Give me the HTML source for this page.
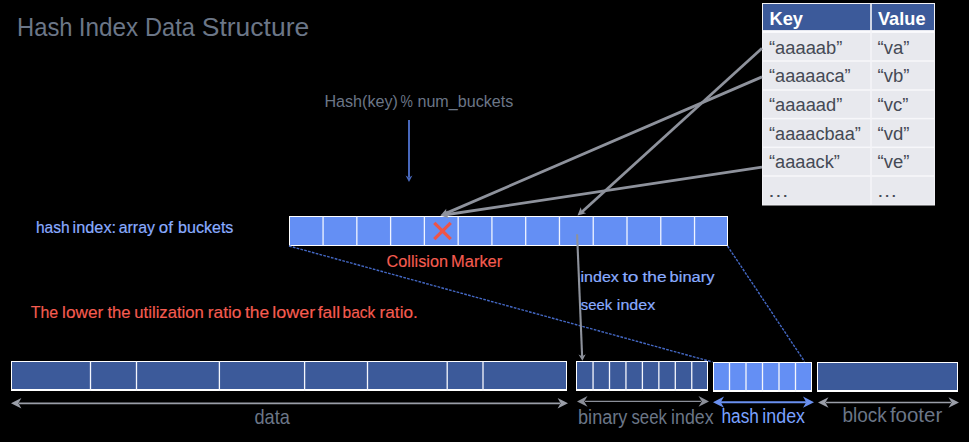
<!DOCTYPE html>
<html><head><meta charset="utf-8"><style>
html,body{margin:0;padding:0;background:#000;width:969px;height:442px;overflow:hidden}
svg{display:block}
text{font-family:"Liberation Sans", sans-serif}
</style></head><body>
<svg width="969" height="442" viewBox="0 0 969 442">
<rect width="969" height="442" fill="#000"/>
<text x="17.05" y="35.8" font-size="26.3" fill="#6b7687" font-weight="normal" textLength="55.49" lengthAdjust="spacingAndGlyphs">Hash</text>
<text x="78.76" y="35.8" font-size="26.3" fill="#6b7687" font-weight="normal" textLength="59.51" lengthAdjust="spacingAndGlyphs">Index</text>
<text x="145.06" y="35.8" font-size="26.3" fill="#6b7687" font-weight="normal" textLength="49.94" lengthAdjust="spacingAndGlyphs">Data</text>
<text x="201.8" y="35.8" font-size="26.3" fill="#6b7687" font-weight="normal" textLength="107.38" lengthAdjust="spacingAndGlyphs">Structure</text>
<text x="324.38" y="106.5" font-size="16.3" fill="#6b7687" font-weight="normal" textLength="73.52" lengthAdjust="spacingAndGlyphs">Hash(key)</text>
<text x="400.5" y="106.5" font-size="16.3" fill="#6b7687" font-weight="normal" textLength="12.39" lengthAdjust="spacingAndGlyphs">%</text>
<text x="417.43" y="106.5" font-size="16.3" fill="#6b7687" font-weight="normal" textLength="95.85" lengthAdjust="spacingAndGlyphs">num_buckets</text>
<line x1="409" y1="120" x2="409" y2="177" stroke="#4868bc" stroke-width="2.0" />
<path d="M409.00,182.00 L405.60,175.50 L409.00,177.50 L412.40,175.50 Z" fill="#4868bc"/>
<rect x="289.00" y="216.00" width="439.00" height="30.00" fill="#ffffff"/>
<rect x="290.00" y="217.00" width="437.00" height="28.00" fill="#648ff4"/>
<rect x="322.42" y="216.00" width="1.30" height="30.00" fill="#f0f4ff"/>
<rect x="356.19" y="216.00" width="1.30" height="30.00" fill="#f0f4ff"/>
<rect x="389.96" y="216.00" width="1.30" height="30.00" fill="#f0f4ff"/>
<rect x="423.73" y="216.00" width="1.30" height="30.00" fill="#f0f4ff"/>
<rect x="457.50" y="216.00" width="1.30" height="30.00" fill="#f0f4ff"/>
<rect x="491.27" y="216.00" width="1.30" height="30.00" fill="#f0f4ff"/>
<rect x="525.04" y="216.00" width="1.30" height="30.00" fill="#f0f4ff"/>
<rect x="558.81" y="216.00" width="1.30" height="30.00" fill="#f0f4ff"/>
<rect x="592.58" y="216.00" width="1.30" height="30.00" fill="#f0f4ff"/>
<rect x="626.35" y="216.00" width="1.30" height="30.00" fill="#f0f4ff"/>
<rect x="660.12" y="216.00" width="1.30" height="30.00" fill="#f0f4ff"/>
<rect x="693.89" y="216.00" width="1.30" height="30.00" fill="#f0f4ff"/>
<line x1="434.3" y1="222.8" x2="450.7" y2="239.2" stroke="#ee5548" stroke-width="3.3" />
<line x1="450.7" y1="222.8" x2="434.3" y2="239.2" stroke="#ee5548" stroke-width="3.3" />
<text x="35.92" y="232.6" font-size="16.6" fill="#8aacff" font-weight="normal" textLength="33.69" lengthAdjust="spacingAndGlyphs" stroke="#8aacff" stroke-width="0.2">hash</text>
<text x="72.61" y="232.6" font-size="16.6" fill="#8aacff" font-weight="normal" textLength="43.48" lengthAdjust="spacingAndGlyphs" stroke="#8aacff" stroke-width="0.2">index:</text>
<text x="118.72" y="232.6" font-size="16.6" fill="#8aacff" font-weight="normal" textLength="36.21" lengthAdjust="spacingAndGlyphs" stroke="#8aacff" stroke-width="0.2">array</text>
<text x="158.89" y="232.6" font-size="16.6" fill="#8aacff" font-weight="normal" textLength="14.08" lengthAdjust="spacingAndGlyphs" stroke="#8aacff" stroke-width="0.2">of</text>
<text x="178.07" y="232.6" font-size="16.6" fill="#8aacff" font-weight="normal" textLength="55.31" lengthAdjust="spacingAndGlyphs" stroke="#8aacff" stroke-width="0.2">buckets</text>
<text x="386.57" y="266.5" font-size="17.2" fill="#f55c50" font-weight="normal" textLength="61.48" lengthAdjust="spacingAndGlyphs" stroke="#f55c50" stroke-width="0.15">Collision</text>
<text x="451.05" y="266.5" font-size="17.2" fill="#f55c50" font-weight="normal" textLength="51.22" lengthAdjust="spacingAndGlyphs" stroke="#f55c50" stroke-width="0.15">Marker</text>
<text x="580.53" y="282.3" font-size="15.5" fill="#8aacff" font-weight="normal" textLength="38.35" lengthAdjust="spacingAndGlyphs" stroke="#8aacff" stroke-width="0.2">index</text>
<text x="622.51" y="282.3" font-size="15.5" fill="#8aacff" font-weight="normal" textLength="16.0" lengthAdjust="spacingAndGlyphs" stroke="#8aacff" stroke-width="0.2">to</text>
<text x="642.44" y="282.3" font-size="15.5" fill="#8aacff" font-weight="normal" textLength="24.13" lengthAdjust="spacingAndGlyphs" stroke="#8aacff" stroke-width="0.2">the</text>
<text x="669.64" y="282.3" font-size="15.5" fill="#8aacff" font-weight="normal" textLength="44.89" lengthAdjust="spacingAndGlyphs" stroke="#8aacff" stroke-width="0.2">binary</text>
<text x="580.79" y="309.5" font-size="15.5" fill="#8aacff" font-weight="normal" textLength="31.29" lengthAdjust="spacingAndGlyphs" stroke="#8aacff" stroke-width="0.2">seek</text>
<text x="616.83" y="309.5" font-size="15.5" fill="#8aacff" font-weight="normal" textLength="38.35" lengthAdjust="spacingAndGlyphs" stroke="#8aacff" stroke-width="0.2">index</text>
<text x="30.74" y="317.9" font-size="17" fill="#f55c50" font-weight="normal" textLength="27.47" lengthAdjust="spacingAndGlyphs" stroke="#f55c50" stroke-width="0.15">The</text>
<text x="62.14" y="317.9" font-size="17" fill="#f55c50" font-weight="normal" textLength="41.15" lengthAdjust="spacingAndGlyphs" stroke="#f55c50" stroke-width="0.15">lower</text>
<text x="107.45" y="317.9" font-size="17" fill="#f55c50" font-weight="normal" textLength="23.09" lengthAdjust="spacingAndGlyphs" stroke="#f55c50" stroke-width="0.15">the</text>
<text x="134.32" y="317.9" font-size="17" fill="#f55c50" font-weight="normal" textLength="69.57" lengthAdjust="spacingAndGlyphs" stroke="#f55c50" stroke-width="0.15">utilization</text>
<text x="207.75" y="317.9" font-size="17" fill="#f55c50" font-weight="normal" textLength="33.68" lengthAdjust="spacingAndGlyphs" stroke="#f55c50" stroke-width="0.15">ratio</text>
<text x="245.04" y="317.9" font-size="17" fill="#f55c50" font-weight="normal" textLength="24.24" lengthAdjust="spacingAndGlyphs" stroke="#f55c50" stroke-width="0.15">the</text>
<text x="272.19" y="317.9" font-size="17" fill="#f55c50" font-weight="normal" textLength="43.01" lengthAdjust="spacingAndGlyphs" stroke="#f55c50" stroke-width="0.15">lower</text>
<text x="317.75" y="317.9" font-size="17" fill="#f55c50" font-weight="normal" textLength="22.31" lengthAdjust="spacingAndGlyphs" stroke="#f55c50" stroke-width="0.15">fall</text>
<text x="342.5" y="317.9" font-size="17" fill="#f55c50" font-weight="normal" textLength="32.78" lengthAdjust="spacingAndGlyphs" stroke="#f55c50" stroke-width="0.15">back</text>
<text x="379.56" y="317.9" font-size="17" fill="#f55c50" font-weight="normal" textLength="38.32" lengthAdjust="spacingAndGlyphs" stroke="#f55c50" stroke-width="0.15">ratio.</text>
<line x1="289" y1="246" x2="712.5" y2="362" stroke="#4468c4" stroke-width="1.4" stroke-dasharray="2.7 1.25"/>
<line x1="727.5" y1="246" x2="804.5" y2="361.5" stroke="#4468c4" stroke-width="1.4" stroke-dasharray="2.7 1.25"/>
<rect x="11.00" y="361.00" width="556.00" height="30.00" fill="#ffffff" />
<rect x="12.00" y="362.00" width="554.00" height="27.00" fill="#3c5a9a" />
<rect x="89.85" y="361.00" width="1.30" height="30.00" fill="#f4f6fc" />
<rect x="135.85" y="361.00" width="1.30" height="30.00" fill="#f4f6fc" />
<rect x="218.75" y="361.00" width="1.30" height="30.00" fill="#f4f6fc" />
<rect x="303.95" y="361.00" width="1.30" height="30.00" fill="#f4f6fc" />
<rect x="366.85" y="361.00" width="1.30" height="30.00" fill="#f4f6fc" />
<rect x="446.55" y="361.00" width="1.30" height="30.00" fill="#f4f6fc" />
<rect x="482.35" y="361.00" width="1.30" height="30.00" fill="#f4f6fc" />
<rect x="576.00" y="361.00" width="132.00" height="30.00" fill="#ffffff" />
<rect x="577.00" y="362.00" width="130.00" height="27.00" fill="#3c5a9a" />
<rect x="592.40" y="361.00" width="1.30" height="30.00" fill="#f4f6fc" />
<rect x="608.85" y="361.00" width="1.30" height="30.00" fill="#f4f6fc" />
<rect x="625.30" y="361.00" width="1.30" height="30.00" fill="#f4f6fc" />
<rect x="641.75" y="361.00" width="1.30" height="30.00" fill="#f4f6fc" />
<rect x="658.20" y="361.00" width="1.30" height="30.00" fill="#f4f6fc" />
<rect x="674.65" y="361.00" width="1.30" height="30.00" fill="#f4f6fc" />
<rect x="691.10" y="361.00" width="1.30" height="30.00" fill="#f4f6fc" />
<rect x="713.00" y="362.00" width="99.00" height="30.00" fill="#ffffff" />
<rect x="714.00" y="363.00" width="97.00" height="27.00" fill="#648ff4" />
<rect x="728.85" y="362.00" width="1.30" height="30.00" fill="#f4f6fc" />
<rect x="745.35" y="362.00" width="1.30" height="30.00" fill="#f4f6fc" />
<rect x="761.85" y="362.00" width="1.30" height="30.00" fill="#f4f6fc" />
<rect x="778.35" y="362.00" width="1.30" height="30.00" fill="#f4f6fc" />
<rect x="794.85" y="362.00" width="1.30" height="30.00" fill="#f4f6fc" />
<rect x="817.00" y="362.00" width="141.00" height="30.00" fill="#ffffff" />
<rect x="818.00" y="363.00" width="139.00" height="27.00" fill="#3c5a9a" />
<line x1="19" y1="403.3" x2="560" y2="403.3" stroke="#9a9ea8" stroke-width="1.7" />
<path d="M11.00,403.30 L21.40,398.10 L18.40,403.30 L21.40,408.50 Z" fill="#9a9ea8"/>
<path d="M568.00,403.30 L557.60,408.50 L560.60,403.30 L557.60,398.10 Z" fill="#9a9ea8"/>
<line x1="585" y1="401.4" x2="701" y2="401.4" stroke="#8b8f99" stroke-width="1.1" />
<path d="M577.00,401.40 L587.50,396.00 L584.20,401.40 L587.50,406.80 Z" fill="#8b8f99"/>
<path d="M709.00,401.40 L698.50,406.80 L701.80,401.40 L698.50,396.00 Z" fill="#8b8f99"/>
<line x1="721" y1="402.2" x2="806" y2="402.2" stroke="#6a90f0" stroke-width="2.1" />
<path d="M713.00,402.20 L724.00,396.60 L720.80,402.20 L724.00,407.80 Z" fill="#6a90f0"/>
<path d="M814.00,402.20 L803.00,407.80 L806.20,402.20 L803.00,396.60 Z" fill="#6a90f0"/>
<line x1="826" y1="402.5" x2="951" y2="402.5" stroke="#9a9ea8" stroke-width="1.4" />
<path d="M818.00,402.50 L828.50,397.20 L825.40,402.50 L828.50,407.80 Z" fill="#9a9ea8"/>
<path d="M959.00,402.50 L948.50,407.80 L951.60,402.50 L948.50,397.20 Z" fill="#9a9ea8"/>
<text x="254.44" y="424.1" font-size="20.4" fill="#6b7687" font-weight="normal" textLength="35.36" lengthAdjust="spacingAndGlyphs">data</text>
<text x="578.03" y="423.9" font-size="20" fill="#6b7687" font-weight="normal" textLength="49.4" lengthAdjust="spacingAndGlyphs">binary</text>
<text x="631.43" y="423.9" font-size="20" fill="#6b7687" font-weight="normal" textLength="35.54" lengthAdjust="spacingAndGlyphs">seek</text>
<text x="671.11" y="423.9" font-size="20" fill="#6b7687" font-weight="normal" textLength="42.48" lengthAdjust="spacingAndGlyphs">index</text>
<text x="721.5" y="422.6" font-size="19.4" fill="#7aa2ff" font-weight="normal" textLength="37.42" lengthAdjust="spacingAndGlyphs">hash</text>
<text x="762.31" y="422.6" font-size="19.4" fill="#7aa2ff" font-weight="normal" textLength="42.69" lengthAdjust="spacingAndGlyphs">index</text>
<text x="842.48" y="421.7" font-size="19.8" fill="#6b7687" font-weight="normal" textLength="44.3" lengthAdjust="spacingAndGlyphs">block</text>
<text x="889.91" y="421.7" font-size="19.8" fill="#6b7687" font-weight="normal" textLength="52.33" lengthAdjust="spacingAndGlyphs">footer</text>
<rect x="762.00" y="3.00" width="173.00" height="202.50" fill="#f2f2f6"/>
<rect x="763.00" y="4.00" width="171.00" height="200.50" fill="#e8e9ee"/>
<rect x="763.00" y="4.00" width="171.00" height="26.30" fill="#3c5a9a"/>
<rect x="763.00" y="30.30" width="171.00" height="2.60" fill="#fbfbfd"/>
<rect x="763.00" y="60.25" width="171.00" height="1.50" fill="#f7f7fa"/>
<rect x="763.00" y="89.25" width="171.00" height="1.50" fill="#f7f7fa"/>
<rect x="763.00" y="117.85" width="171.00" height="1.50" fill="#f7f7fa"/>
<rect x="763.00" y="146.55" width="171.00" height="1.50" fill="#f7f7fa"/>
<rect x="763.00" y="175.25" width="171.00" height="1.50" fill="#f7f7fa"/>
<rect x="870.20" y="4.00" width="1.60" height="200.50" fill="#f4f4f8"/>
<text x="769.5" y="24.7" font-size="18.5" fill="#ffffff" font-weight="bold" textLength="33.5" lengthAdjust="spacingAndGlyphs">Key</text>
<text x="878" y="24.7" font-size="18.5" fill="#ffffff" font-weight="bold" textLength="47.5" lengthAdjust="spacingAndGlyphs">Value</text>
<text x="769.03" y="53.5" font-size="18" fill="#454a55" font-weight="normal" textLength="73.34" lengthAdjust="spacingAndGlyphs">“aaaaab”</text>
<text x="877.62" y="53.5" font-size="18" fill="#454a55" font-weight="normal" textLength="31.85" lengthAdjust="spacingAndGlyphs">“va”</text>
<text x="769.04" y="82.2" font-size="18" fill="#454a55" font-weight="normal" textLength="81.63" lengthAdjust="spacingAndGlyphs">“aaaaaca”</text>
<text x="877.62" y="82.2" font-size="18" fill="#454a55" font-weight="normal" textLength="31.85" lengthAdjust="spacingAndGlyphs">“vb”</text>
<text x="769.03" y="110.9" font-size="18" fill="#454a55" font-weight="normal" textLength="73.34" lengthAdjust="spacingAndGlyphs">“aaaaad”</text>
<text x="877.62" y="110.9" font-size="18" fill="#454a55" font-weight="normal" textLength="30.75" lengthAdjust="spacingAndGlyphs">“vc”</text>
<text x="769.04" y="139.6" font-size="18" fill="#454a55" font-weight="normal" textLength="91.83" lengthAdjust="spacingAndGlyphs">“aaaacbaa”</text>
<text x="877.62" y="139.6" font-size="18" fill="#454a55" font-weight="normal" textLength="31.85" lengthAdjust="spacingAndGlyphs">“vd”</text>
<text x="769.03" y="168.3" font-size="18" fill="#454a55" font-weight="normal" textLength="70.83" lengthAdjust="spacingAndGlyphs">“aaaack”</text>
<text x="877.62" y="168.3" font-size="18" fill="#454a55" font-weight="normal" textLength="31.85" lengthAdjust="spacingAndGlyphs">“ve”</text>
<text x="767.46" y="197.0" font-size="18" fill="#454a55" font-weight="normal" textLength="21.69" lengthAdjust="spacingAndGlyphs">…</text>
<text x="876.53" y="197.0" font-size="18" fill="#454a55" font-weight="normal" textLength="21.14" lengthAdjust="spacingAndGlyphs">…</text>
<line x1="762" y1="48.3" x2="580.5" y2="213.2" stroke="#8e929c" stroke-width="2.8" />
<path d="M577.50,215.60 L580.74,207.26 L581.94,211.57 L586.11,213.19 Z" fill="#8e929c"/>
<line x1="762" y1="76.9" x2="443.5" y2="214.4" stroke="#8e929c" stroke-width="2.8" />
<path d="M440.50,215.60 L446.26,208.76 L446.01,213.22 L449.43,216.10 Z" fill="#8e929c"/>
<line x1="762" y1="167.2" x2="444" y2="215" stroke="#8e929c" stroke-width="2.8" />
<path d="M440.50,215.60 L447.82,210.45 L446.43,214.71 L449.01,218.36 Z" fill="#8e929c"/>
<line x1="577.1" y1="234.2" x2="582.1" y2="356" stroke="#8e929c" stroke-width="2.1" />
<path d="M582.40,360.80 L578.53,354.46 L582.21,356.30 L585.72,354.16 Z" fill="#8e929c"/>
</svg>
</body></html>
